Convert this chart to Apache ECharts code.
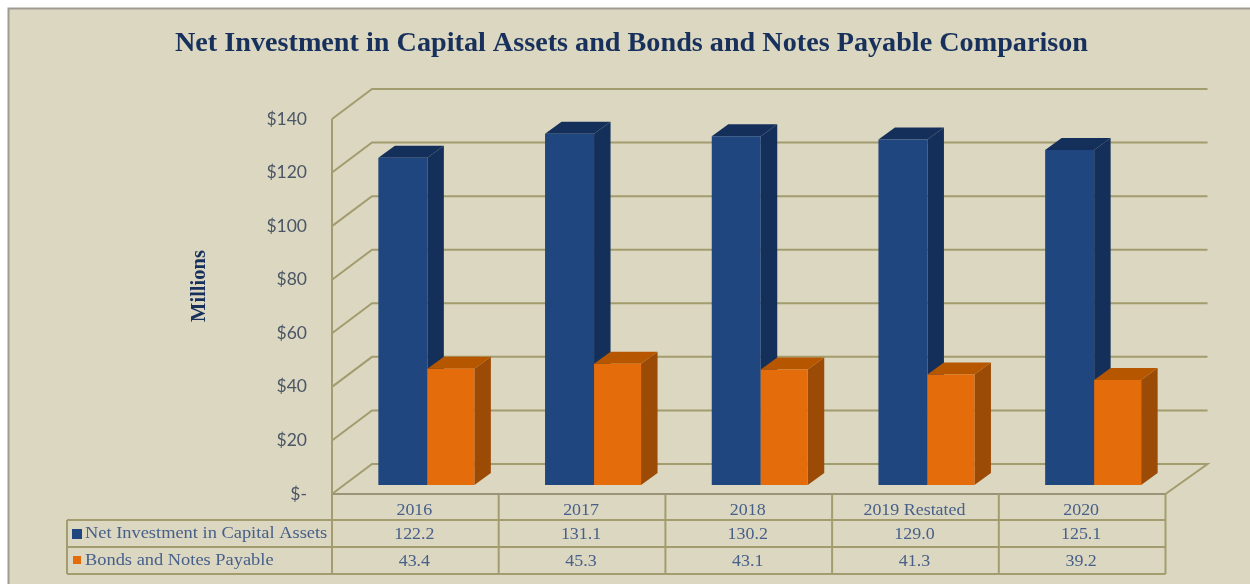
<!DOCTYPE html>
<html><head><meta charset="utf-8">
<style>html,body{margin:0;padding:0;background:#fff}#c{width:1250px;height:584px}</style>
<script src="https://cdn.jsdelivr.net/npm/echarts@6/dist/echarts.min.js"></script>
</head><body><div id="c"></div>
<script>
const titleText = 'Net Investment in Capital Assets and Bonds and Notes Payable Comparison';
const axisTitle = 'Millions';
const categories = ['2016','2017','2018','2019 Restated','2020'];
const seriesNames = ['Net Investment in Capital Assets','Bonds and Notes Payable'];
const netInvestment = [122.2,131.1,130.2,129.0,125.1];
const bondsNotes = [43.4,45.3,43.1,41.3,39.2];
const tickValues = [0,20,40,60,80,100,120,140];

const SERIF = '"Liberation Serif","Times New Roman",serif';
const LINE = '#a39c6e', TXT = '#47608a', NAVY = '#17315c';
const palette = [
  {front:'#1f467e', top:'#14305a', side:'#14305a'},
  {front:'#e56c0a', top:'#b65700', side:'#9b4b06'}
];
const DX=40, DY=30, FX=11, FY=9, SX=16.5, SY=12;
const ROW = [520,547,574], LEFT_T = 67, STRETCH = 1.12, STRETCH_LEGEND = 1.15;

function barSeries(name, values, k){
  return {
    name, type:'custom', clip:false, z:5,
    data: values.map((v,i)=>[i,v]),
    encode:{x:0,y:1},
    renderItem(params, api){
      const base = api.coord([api.value(0),0]);
      const top = api.coord([api.value(0),api.value(1)]);
      const cx = base[0]+FX;
      const x0 = k===0 ? cx-48 : cx+1, x1 = k===0 ? cx+1 : cx+48;
      const y0 = base[1]-FY, y1 = top[1]-FY;
      const c = palette[k];
      return {type:'group',children:[
        {type:'polygon',shape:{points:[[x1,y0],[x1+SX,y0-SY],[x1+SX,y1-SY],[x1,y1]]},style:{fill:c.side}},
        {type:'polygon',shape:{points:[[x0,y1],[x0+SX,y1-SY],[x1+SX,y1-SY],[x1,y1]]},style:{fill:c.top}},
        {type:'rect',shape:{x:x0,y:y1,width:x1-x0,height:y0-y1},style:{fill:c.front}}
      ]};
    }
  };
}

const wallSeries = {
  name:'walls', type:'custom', clip:false, z:1, silent:true,
  data: tickValues.map(v=>[0,v]),
  encode:{x:0,y:1},
  renderItem(params, api){
    const cs = params.coordSys;
    const y = api.coord([0,api.value(1)])[1];
    const pts = [[cs.x,y],[cs.x+DX,y-DY],[cs.x+cs.width+42,y-DY]];
    if(api.value(1)===0) pts.push([cs.x+cs.width,y]);
    return {type:'polyline',shape:{points:pts},style:{stroke:LINE,lineWidth:2,fill:null}};
  }
};

const stretched = (t,x,y,align,sx)=>({type:'text',x,y,scaleX:sx||STRETCH,scaleY:1,
  style:{text:t,x:0,y:0,fill:TXT,font:'16px '+SERIF,textAlign:align,textVerticalAlign:'middle'}});

const tableSeries = {
  name:'table', type:'custom', clip:false, z:6, silent:true,
  data: categories.map((c,i)=>[i,0]),
  encode:{x:0,y:1},
  renderItem(params, api){
    const i = api.value(0), cs = params.coordSys;
    const cx = api.coord([i,0])[0], band = cs.width/categories.length;
    const top = cs.y+cs.height;
    const line = (a,b,c,d)=>({type:'line',shape:{x1:a,y1:b,x2:c,y2:d},style:{stroke:LINE,lineWidth:2}});
    const kids = [
      line(cx+band/2,top,cx+band/2,ROW[2]),
      stretched(categories[i],cx-1,510.5,'center'),
      stretched(netInvestment[i].toFixed(1),cx-1,534.5,'center'),
      stretched(bondsNotes[i].toFixed(1),cx-1,561.5,'center')
    ];
    if(i===0){
      const r = cs.x+cs.width;
      kids.push(
        {type:'line',shape:{x1:cs.x,y1:top,x2:r,y2:top},style:{stroke:'#9a9578',lineWidth:2}},
        line(cs.x,cs.y,cs.x,ROW[2]),
        line(LEFT_T,ROW[0],r,ROW[0]),
        line(LEFT_T,ROW[1],r,ROW[1]),
        line(LEFT_T,ROW[2],r,ROW[2]),
        line(LEFT_T,ROW[0],LEFT_T,ROW[2]),
        {type:'rect',shape:{x:72,y:529,width:10,height:10},style:{fill:palette[0].front}},
        {type:'rect',shape:{x:73,y:556,width:8,height:8},style:{fill:palette[1].front}},
        stretched(seriesNames[0],85,534,'left',STRETCH_LEGEND),
        stretched(seriesNames[1],85,561,'left',STRETCH_LEGEND)
      );
    }
    return {type:'group',children:kids};
  }
};

const chart = echarts.init(document.getElementById('c'),null,{renderer:'canvas'});
chart.setOption({
  animation:false,
  backgroundColor:'#ffffff',
  graphic:[
    {type:'rect',z:-10,shape:{x:8.5,y:8.5,width:1260,height:600},style:{fill:'#dcd7c1',stroke:'#a09b92',lineWidth:2}},
    {type:'text',z:10,x:200,y:286,rotation:Math.PI/2,
      style:{text:axisTitle,x:0,y:0,fill:NAVY,font:'bold 20.5px '+SERIF,textAlign:'center',textVerticalAlign:'middle'}}
  ],
  title:{text:titleText,left:626.5,top:25,textAlign:'center',
    textStyle:{fontFamily:SERIF,fontSize:28.2,fontWeight:'bold',color:NAVY}},
  grid:{left:332,right:84.5,top:119,bottom:90},
  xAxis:{type:'category',data:categories,
    axisLine:{show:false},axisTick:{show:false},splitLine:{show:false},
    axisLabel:{show:false}},
  yAxis:{type:'value',min:0,max:140,interval:20,
    axisLine:{show:false},axisTick:{show:false},splitLine:{show:false},
    axisLabel:{margin:25,color:'#4a5566',fontFamily:'Lato',fontSize:17.5,padding:[3,0,0,0],
      formatter:v=>v===0?'$-':'$'+v}},
  series:[wallSeries, barSeries(seriesNames[0],netInvestment,0), barSeries(seriesNames[1],bondsNotes,1), tableSeries]
});
</script></body></html>
